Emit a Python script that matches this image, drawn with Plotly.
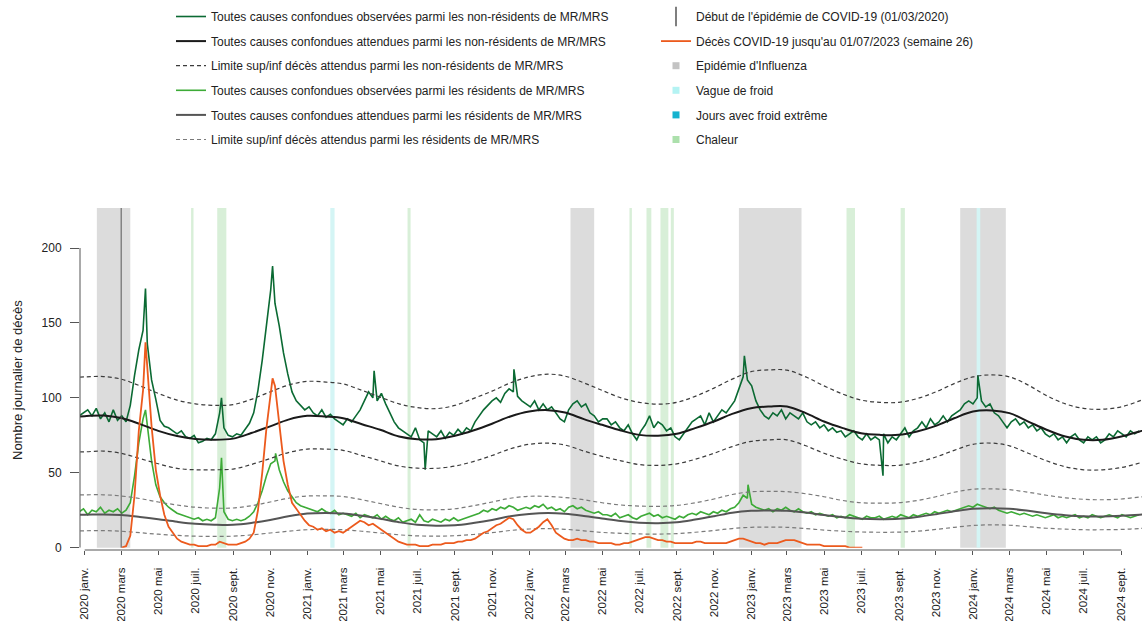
import pandas as pd
import plotly.graph_objects as go

# ---------------- données ----------------
debut_semaines = "2019-12-23"          # séries hebdomadaires observées
obs_non_residents = [
    88, 90, 92, 88, 93, 86, 90, 84, 92, 85,
    88, 84, 95, 115, 132, 145, 136, 112, 99, 85,
    81, 80, 78, 76, 78, 74, 73, 75, 70, 71,
    73, 72, 76, 90, 80, 75, 74, 76, 75, 79,
    83, 90, 105, 125, 150, 172, 163, 148, 130, 116,
    104, 98, 95, 92, 94, 90, 88, 92, 87, 89,
    86, 84, 82, 86, 84, 88, 92, 98, 104, 100,
    98, 103, 96, 90, 84, 80, 78, 76, 74, 80,
    72, 70, 78, 76, 74, 78, 73, 77, 75, 79,
    76, 80, 78, 84, 88, 92, 95, 98, 100, 97,
    103, 106, 104, 101, 98, 96, 94, 98, 92, 96,
    92, 94, 90, 86, 84, 92, 96, 98, 94, 96,
    90, 88, 84, 86, 86, 82, 84, 80, 78, 82,
    76, 72, 78, 82, 88, 80, 84, 82, 78, 80,
    74, 72, 76, 80, 84, 86, 88, 82, 90, 84,
    88, 92, 90, 94, 98, 106, 114, 112, 108, 98,
    92, 88, 86, 90, 88, 92, 86, 90, 88, 86,
    90, 84, 82, 84, 80, 82, 78, 80, 77, 78,
    74, 76, 78, 74, 72, 76, 72, 74, 72, 76,
    70, 74, 72, 76, 80, 74, 78, 80, 84, 80,
    86, 82, 84, 88, 84, 88, 90, 92, 96, 98,
    96, 100, 98, 94, 96, 90, 88, 84, 80, 84,
    86, 82, 84, 80, 82, 78, 80, 76, 74, 76,
    72, 74, 70, 74, 76, 72, 70, 74, 72, 74,
    70, 72, 76, 74, 78, 76, 74, 78, 76, 78,
]
pics_nr_dates = ["2020-04-10", "2020-08-13", "2020-11-05", "2021-04-21", "2021-07-14",
                 "2021-12-07", "2022-12-21", "2023-08-06", "2024-01-09"]
pics_nr_vals = [173, 100, 188, 118, 52, 119, 128, 48, 115]

obs_residents = [
    24, 26, 22, 25, 24, 27, 23, 25, 24, 26,
    23, 25, 30, 48, 70, 86, 82, 58, 42, 34,
    30, 27, 25, 23, 22, 21, 20, 19, 20, 18,
    19, 18, 20, 40, 24, 19, 18, 19, 18, 19,
    21, 24, 30, 38, 48, 56, 58, 52, 44, 38,
    34, 30, 28, 27, 26, 25, 24, 26, 24, 23,
    25, 22, 23,
    22, 21, 23, 20, 22, 21, 20, 22, 19, 21,
    19, 18, 20, 17, 18, 19, 17, 22, 18, 17, 19, 18, 17, 19, 18, 20, 18, 19, 20, 21,
    22, 23, 25, 24, 26, 25, 27, 26, 28, 27, 25, 26, 27,
    26, 28, 27, 29, 26, 27, 25, 26, 24, 27, 28, 26, 27, 25, 24, 23, 24, 22,
    22, 21, 23, 20, 21, 22, 20, 19, 21, 22, 23, 21, 22, 20, 21, 20, 19, 21, 20,
    22, 23, 22, 24, 23, 22, 24, 23, 25, 24, 26, 27,
    30, 35, 33, 29, 27, 26,
    25, 26, 24, 26, 25, 27, 25, 24, 26, 24, 23, 24, 22, 23, 22,
    21, 22, 20, 21, 20, 22, 21, 20, 19, 21, 20,
    20, 21, 19, 20, 21, 20, 22, 21, 20, 22, 21, 22, 23, 22, 24, 23, 24, 25, 24,
    25, 26, 27, 28, 27, 29, 28, 27, 26, 27, 25, 24, 23,
    24, 23, 22, 23, 22, 21, 22, 21, 20, 21, 22, 20, 21, 20, 21, 22, 20, 21, 20, 22,
    21, 20, 21, 22, 21, 20, 22, 21, 20, 21, 22,
]
pics_r_dates = ["2020-04-10", "2020-08-13", "2020-11-10", "2022-12-27"]
pics_r_vals = [92, 60, 63, 42]

debut_covid_serie = "2020-03-02"
deces_covid = [
    0, 1, 8, 35, 78, 105, 118, 81, 52, 35,
    22, 14, 10, 6, 4, 3, 2, 2, 1, 1,
    1, 2, 2, 4, 3, 2, 2, 2, 3, 4,
    6, 10, 25, 50, 80, 102, 108, 84, 58, 42,
    30, 26, 22, 18, 15, 14, 12, 13, 11, 12,
    10, 11, 10,
    12, 14, 16, 18, 17, 15, 16, 14, 12, 10,
    8, 6, 4, 3, 2, 2, 2, 1, 1, 1,
    2, 2, 2, 3, 3, 3, 4, 4, 5, 5,
    6, 8, 10, 11, 13, 15, 16, 18, 20, 19,
    15, 12, 10, 10, 12, 14, 17, 19, 15, 10,
    8, 6, 5, 5, 6, 5, 5, 4, 4, 3, 3,
    3, 3, 2, 2, 3, 3, 4, 5, 6, 7,
    7, 6, 5, 5, 4, 4, 3, 3, 3, 3,
    3, 4, 4, 3, 3, 3, 3, 3, 3, 4,
    5, 6, 6, 5, 4, 3, 3, 2, 3, 3,
    3, 4, 5, 5, 5, 4, 3, 2, 2, 2,
    2, 1, 1, 1, 1, 1, 1, 0, 0, 0, 0,
]
pics_covid_dates = ["2020-04-10", "2020-11-05"]
pics_covid_vals = [137, 113]

# valeurs attendues et limites, au 1er de chaque mois (déc. 2019 -> nov. 2024)
debut_mois, fin_mois = "2019-12-01", "2024-11-01"
attendus_nr = [87, 87.8, 88.2, 86.5, 82.5, 78, 74.5, 72.5, 72, 72.8, 76.5, 81, 85.5,
               88, 87.5, 86.4, 82.4, 78.7, 74.2, 72.4, 72.4, 74.7, 78.2, 82.7, 87.6,
               90.9, 91.8, 90.2, 85.8, 82, 78.2, 75.3, 74.7, 76, 79.8, 84.2, 89.3,
               93.1, 94.2, 94.2, 89.8, 84.2, 79.8, 76.4, 75.3, 75.3, 77.6, 81.3, 86.4,
               90.9, 91.6, 89.8, 84.2, 78.7, 74.2, 72, 72, 74.2, 77.6, 81.5]
sup_nr = [113, 114, 114.2, 112.5, 108, 103, 98.5, 96, 95, 95.5, 99, 104, 108.5,
          111, 110.5, 109.3, 105, 100.5, 96, 93.5, 92.8, 95, 99.5, 104.5, 110,
          114, 115.8, 114.5, 110, 105, 100, 97, 95.8, 97, 101, 106.5, 112.5,
          117.5, 118.7, 118.5, 114, 108, 102.5, 98.5, 97, 97, 99.5, 104, 109.5,
          114, 115.3, 114, 108.5, 101.5, 96, 93, 92.4, 94, 98, 103]
inf_nr = [64, 64, 64.5, 63, 59.5, 56, 53, 52, 52, 52.5, 55.5, 59.5, 63.5,
          65.8, 65.8, 65, 61.5, 58, 54.5, 53.1, 53, 54.5, 57.5, 61.5, 66,
          69, 69.8, 68.5, 64.5, 61, 58, 55.5, 54.9, 56, 59, 63, 67.5,
          71, 72, 72, 68, 63, 59, 56, 55, 55, 57, 60.5, 65,
          69, 69.8, 68, 63, 58, 54, 52, 52, 53.5, 56.5, 60]
attendus_r = [22, 22, 22.2, 21.8, 20.5, 19, 17.3, 16, 15.4, 15.3, 16.5, 18.5, 21,
              22.8, 23.2, 22.8, 21.3, 19.3, 17, 15.3, 14.7, 15, 16.5, 18.5, 21,
              22.5, 23.1, 22.6, 21.2, 19.5, 17.8, 16.7, 16.4, 17, 18.8, 21, 23.3,
              24.6, 24.9, 24.7, 23.5, 21.8, 20.3, 19.3, 19, 19.3, 20.5, 22.3, 24.3,
              26, 26.4, 26, 24.6, 23, 21.7, 21, 20.9, 21.3, 22, 23]
sup_r = [35, 35.3, 35.3, 34.5, 32.8, 30.5, 28.5, 27, 26.4, 26.5, 28, 30.5, 33,
         34.5, 34.6, 34.2, 32, 29.5, 27, 25.5, 25.3, 26, 28, 30.5, 33,
         34.3, 34.2, 33.5, 32, 30, 28.5, 27.8, 27.6, 28.2, 30, 32.5, 35.5,
         37.3, 37.6, 37.4, 36, 34, 31.5, 30, 29.8, 30, 31.5, 34, 37,
         39, 39.3, 38.7, 37, 35, 33.3, 32.3, 32, 32.5, 33.8, 35]
inf_r = [11.3, 11.3, 11.4, 11, 10, 9, 8.2, 7.7, 7.6, 7.7, 8.5, 9.8, 11,
         12, 12.2, 12, 11, 9.8, 8.6, 7.9, 7.7, 8, 8.8, 10, 11.5,
         12.5, 12.7, 12.3, 11.3, 10.2, 9.6, 9.2, 9.1, 9.4, 10.3, 11.5, 12.8,
         13.6, 13.8, 13.6, 12.8, 11.8, 11, 10.5, 10.3, 10.4, 11, 12.2, 13.6,
         14.8, 15.3, 15, 14, 13, 12.4, 12, 12, 12.2, 12.8, 13.5]

# périodes particulières
debut_epidemie = "2020-03-01"
grippe = [("2020-01-21", "2020-03-16"), ("2022-03-10", "2022-04-18"),
          ("2022-12-12", "2023-03-25"), ("2023-12-11", "2024-02-24")]
vague_froid = [("2021-02-08", "2021-02-15"), ("2024-01-07", "2024-01-13")]
froid_extreme = []
chaleur = [("2020-06-24", "2020-06-28"), ("2020-08-06", "2020-08-21"),
           ("2021-06-15", "2021-06-20"), ("2022-06-15", "2022-06-19"),
           ("2022-07-13", "2022-07-21"), ("2022-08-05", "2022-08-18"),
           ("2022-08-22", "2022-08-27"), ("2023-06-07", "2023-06-21"),
           ("2023-09-04", "2023-09-11")]

annees_ticks = [2020, 2021, 2022, 2023, 2024]
mois_ticks = [1, 3, 5, 7, 9, 11]
noms_mois = ["janv.", "mars", "mai", "juil.", "sept.", "nov."]
y_ticks = [0, 50, 100, 150, 200]

# ---------------- construction ----------------
def serie(debut, valeurs, pics_d, pics_v):
    s = pd.Series(valeurs, index=pd.date_range(debut, periods=len(valeurs), freq="7D"))
    p = pd.Series(pics_v, index=pd.to_datetime(pics_d))
    return pd.concat([s, p]).sort_index()

s_nr = serie(debut_semaines, obs_non_residents, pics_nr_dates, pics_nr_vals)
s_r = serie(debut_semaines, obs_residents, pics_r_dates, pics_r_vals)
s_cov = serie(debut_covid_serie, deces_covid, pics_covid_dates, pics_covid_vals)
mois = pd.date_range(debut_mois, fin_mois, freq="MS")

tickvals, ticktext = [], []
for a in annees_ticks:
    for m, nom in zip(mois_ticks, noms_mois):
        if a == 2024 and m > 9:
            continue
        tickvals.append(f"{a}-{m:02d}-01")
        ticktext.append(f"{a} {nom}")

FONT = "Liberation Sans, Arial, Helvetica, sans-serif"
C_NR = "#0b6a33"
C_R = "#3dab37"
C_COV = "#ec5a1d"
DASH = "4px,3px"

fig = go.Figure()

fig.add_trace(go.Scatter(x=s_nr.index, y=s_nr.values, mode="lines",
                         line=dict(color=C_NR, width=1.6),
                         name="Toutes causes confondues observées parmi les non-résidents de MR/MRS",
                         legend="legend", legendgroup="a1", legendrank=1))
fig.add_trace(go.Scatter(x=s_r.index, y=s_r.values, mode="lines",
                         line=dict(color=C_R, width=1.6),
                         name="Toutes causes confondues observées parmi les résidents de MR/MRS",
                         legend="legend", legendgroup="a4", legendrank=4))
fig.add_trace(go.Scatter(x=mois, y=attendus_nr, mode="lines",
                         line=dict(color="#1a1a1a", width=2, shape="spline"),
                         name="Toutes causes confondues attendues parmi les non-résidents de MR/MRS",
                         legend="legend", legendgroup="a2", legendrank=2))
fig.add_trace(go.Scatter(x=mois, y=attendus_r, mode="lines",
                         line=dict(color="#555555", width=2, shape="spline"),
                         name="Toutes causes confondues attendues parmi les résidents de MR/MRS",
                         legend="legend", legendgroup="a5", legendrank=5))
for i, yv in enumerate([sup_nr, inf_nr]):
    fig.add_trace(go.Scatter(x=mois, y=yv, mode="lines",
                             line=dict(color="#3c3c3c", width=1.2, dash=DASH, shape="spline"),
                             name="Limite sup/inf décès attendus parmi les non-résidents de MR/MRS",
                             legend="legend", legendgroup="a3", legendrank=3, showlegend=(i == 0)))
for i, yv in enumerate([sup_r, inf_r]):
    fig.add_trace(go.Scatter(x=mois, y=yv, mode="lines",
                             line=dict(color="#7a7a7a", width=1.2, dash=DASH, shape="spline"),
                             name="Limite sup/inf décès attendus parmi les résidents de MR/MRS",
                             legend="legend", legendgroup="a6", legendrank=6, showlegend=(i == 0)))
fig.add_trace(go.Scatter(x=s_cov.index, y=s_cov.values, mode="lines",
                         line=dict(color=C_COV, width=1.8),
                         name="Décès COVID-19 jusqu'au 01/07/2023 (semaine 26)",
                         legend="legend2", legendgroup="b2", legendrank=2))

# entrées de légende pour les repères
fig.add_trace(go.Scatter(x=[None], y=[None], mode="markers",
                         marker=dict(symbol="line-ns", size=14, line=dict(color="#555555", width=1.5)),
                         name="Début de l'épidémie de COVID-19 (01/03/2020)",
                         legend="legend2", legendgroup="b1", legendrank=1))
for rang, (nom, coul) in enumerate([("Epidémie d'Influenza", "#c3c3c3"),
                                    ("Vague de froid", "#b4f3f3"),
                                    ("Jours avec froid extrême", "#15b3cf"),
                                    ("Chaleur", "#ace0ac")]):
    fig.add_trace(go.Scatter(x=[None], y=[None], mode="markers",
                             marker=dict(symbol="square", size=7, color=coul),
                             name=nom, legend="legend2", legendgroup=f"b{rang + 3}",
                             legendrank=rang + 3))

shapes = []
for liste, coul in [(grippe, "#dcdcdc"), (vague_froid, "#d4f5f5"),
                    (froid_extreme, "#8adcea"), (chaleur, "#d8efd8")]:
    for x0, x1 in liste:
        shapes.append(dict(type="rect", xref="x", yref="y domain", x0=x0, x1=x1, y0=0, y1=1,
                           fillcolor=coul, line=dict(width=0), layer="below"))
shapes.append(dict(type="line", xref="x", yref="y domain", x0=debut_epidemie, x1=debut_epidemie,
                   y0=0, y1=1, line=dict(color="#555555", width=1)))
shapes.append(dict(type="line", xref="x", yref="paper", x0=tickvals[0], x1=tickvals[-1],
                   y0=0, y1=0, line=dict(color="#555555", width=1)))
shapes.append(dict(type="line", xref="paper", yref="y", x0=0, x1=0, y0=y_ticks[0], y1=y_ticks[-1],
                   line=dict(color="#555555", width=1)))

fig.update_layout(
    width=1144, height=621,
    margin=dict(l=80, r=2, t=208, b=71, autoexpand=False),
    paper_bgcolor="white", plot_bgcolor="white",
    font=dict(family=FONT, size=12, color="#222222"),
    xaxis=dict(type="date", range=["2019-12-24 07:00", "2024-10-05"],
               anchor="free", position=0,
               showgrid=False, zeroline=False, showline=False,
               ticks="outside", ticklen=4, tickcolor="#555555", tickwidth=1,
               tickvals=tickvals, ticktext=ticktext, tickangle=-90,
               ticklabelstandoff=8,
               tickfont=dict(size=11.5, color="#222222")),
    yaxis=dict(range=[0, 226.7], domain=[0.0067, 1],
               showgrid=False, zeroline=False, showline=False,
               ticks="outside", ticklen=9, tickcolor="#555555", tickwidth=1,
               tickvals=y_ticks, tickfont=dict(size=12, color="#222222"),
               ticklabelstandoff=6),
    legend=dict(xref="container", yref="container", x=171 / 1144, y=1 - 2 / 621,
                xanchor="left", yanchor="top", tracegroupgap=5.6,
                bgcolor="rgba(0,0,0,0)", font=dict(size=12, color="#222222")),
    legend2=dict(xref="container", yref="container", x=656 / 1144, y=1 - 2 / 621,
                 xanchor="left", yanchor="top", tracegroupgap=5.6,
                 bgcolor="rgba(0,0,0,0)", font=dict(size=12, color="#222222")),
    annotations=[dict(text="Nombre journalier de décès", xref="paper", yref="paper",
                      x=(17 - 80) / 1062, y=(550 - 380) / 342, xanchor="center", yanchor="middle",
                      textangle=-90, showarrow=False, font=dict(size=13, color="#222222"))],
    shapes=shapes,
    showlegend=True,
)

fig.write_html("out.html", config={"displayModeBar": False},
               post_script="document.body.style.margin='0';document.body.style.overflow='hidden';")
